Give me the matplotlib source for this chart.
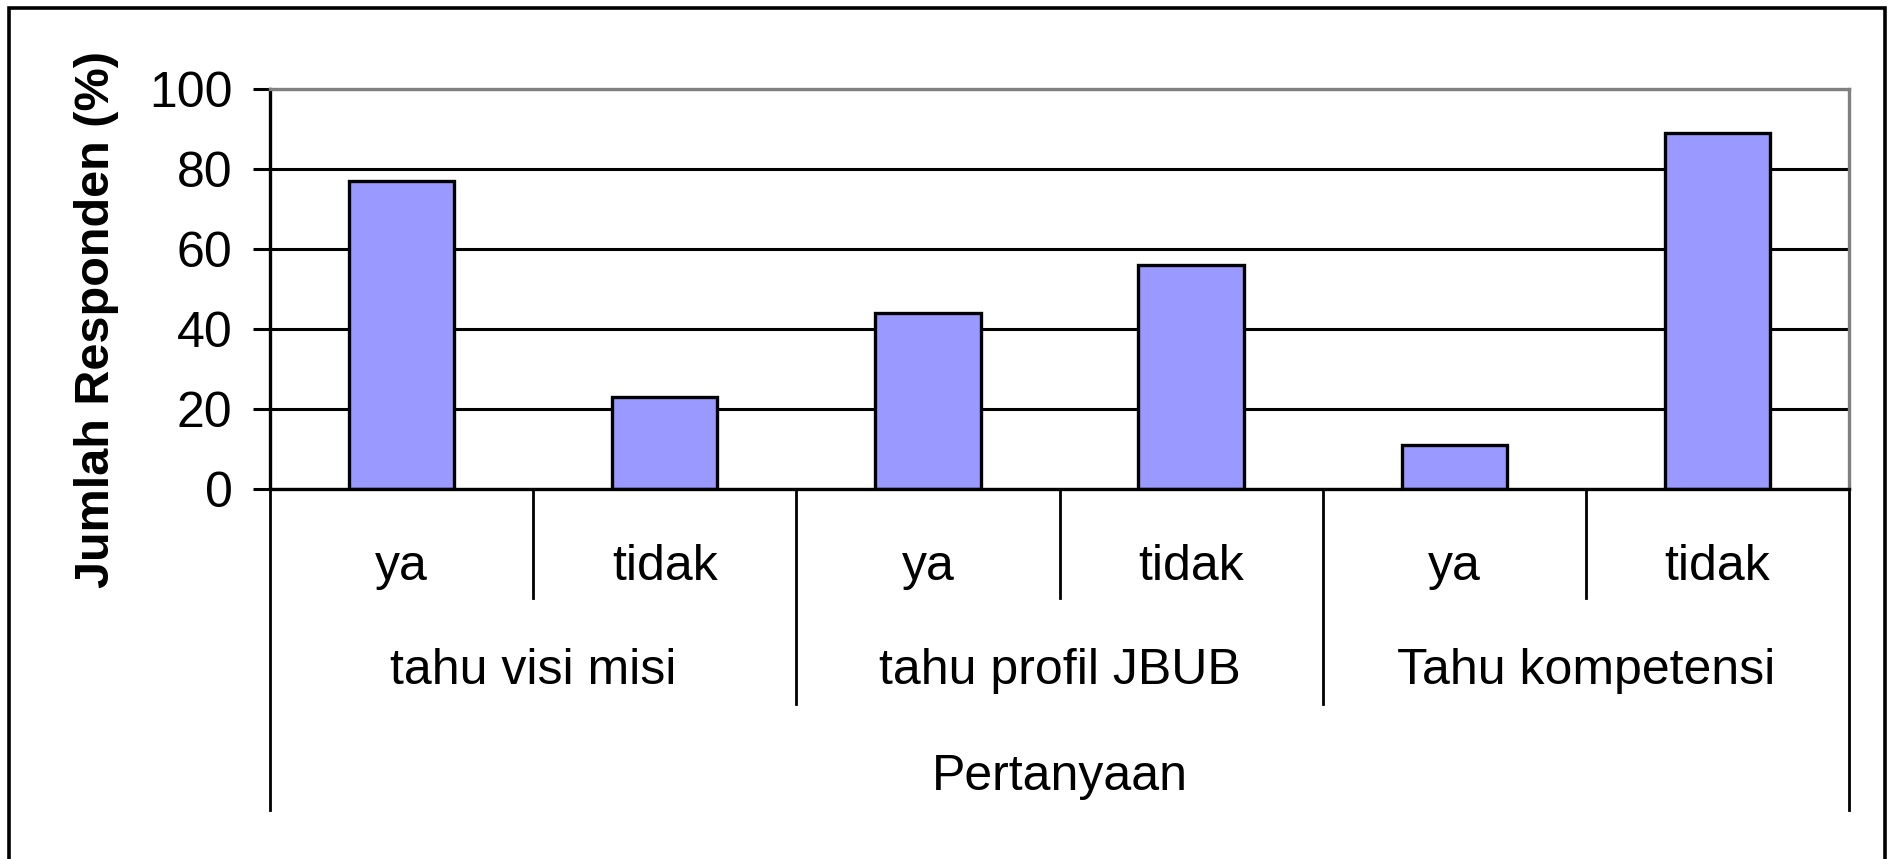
import matplotlib
matplotlib.use("Agg")
import matplotlib.pyplot as plt
import matplotlib.transforms as mtransforms
from matplotlib.patches import Rectangle

plt.rcParams["font.family"] = ["Liberation Sans", "DejaVu Sans"]

# data
groups = ["tahu visi misi", "tahu profil JBUB", "Tahu kompetensi"]
answers = ["ya", "tidak"]
values = [77, 23, 44, 56, 11, 89]
y_ticks = [0, 20, 40, 60, 80, 100]
x_title = "Pertanyaan"
y_title = "Jumlah Responden (%)"

BAR = "#9999FF"
GRAY = "#808080"
FS = 36

W, H = 1893, 859
fig = plt.figure(figsize=(W / 100, H / 100), dpi=100)
ax = fig.add_axes([270 / W, 1 - 489 / H, (1849 - 270) / W, 400 / H])

labels = [a for g in groups for a in answers]
pos = [i + 0.5 for i in range(len(labels))]
ax.bar(pos, values, width=0.4, color=BAR, edgecolor="black", linewidth=2.4, zorder=2)

ax.set_xlim(0, len(labels))
ax.set_ylim(0, 100)
ax.set_yticks(y_ticks)
ax.tick_params(axis="y", labelsize=FS, length=12, width=2.2, pad=15, direction="out")
ax.set_xticks([])
ax.grid(axis="y", color="black", linewidth=2.2)
ax.set_axisbelow(True)
for side in ["left", "bottom"]:
    ax.spines[side].set_color("black")
    ax.spines[side].set_linewidth(2.4)
for side in ["top", "right"]:
    ax.spines[side].set_color(GRAY)
    ax.spines[side].set_linewidth(2.4)

# multi-level category axis below the plot
trans = mtransforms.blended_transform_factory(ax.transData, ax.transAxes)
n_per = len(answers)
for i in range(len(labels) + 1):
    if i in (0, len(labels)):
        bottom = -0.8025
    elif i % n_per == 0:
        bottom = -0.5375
    else:
        bottom = -0.2725
    ax.plot([i, i], [0, bottom], color="black", linewidth=2, transform=trans, clip_on=False)

for p, lab in zip(pos, labels):
    ax.text(p, -0.2275, lab, transform=trans, ha="center", va="baseline", fontsize=FS)
for j, g in enumerate(groups):
    ax.text(j * n_per + n_per / 2, -0.4875, g, transform=trans, ha="center", va="baseline", fontsize=FS)
ax.text(len(labels) / 2, -0.7525, x_title, transform=trans, ha="center", va="baseline", fontsize=FS)

fig.text(97 / W, 1 - 319 / H, y_title, rotation=90, ha="center", va="center",
         fontsize=35, fontweight="bold")

# outer chart frame (runs off the bottom edge)
fig.patches.append(Rectangle((8.5 / W, -0.05), (1885 - 8.5) / W, 1.05 - 8 / H,
                             transform=fig.transFigure, fill=False,
                             edgecolor="black", linewidth=2.6))

fig.savefig("out.png", dpi=100, facecolor="white")
